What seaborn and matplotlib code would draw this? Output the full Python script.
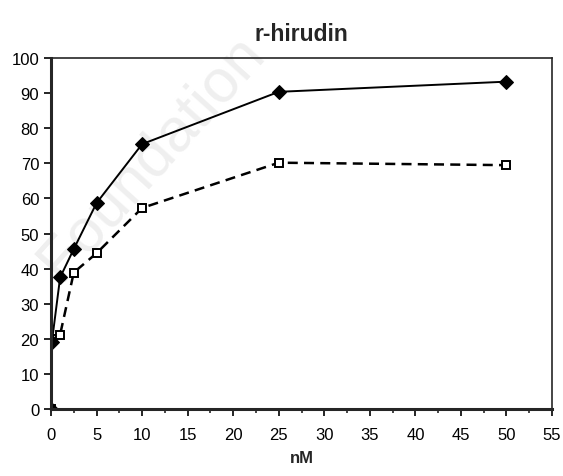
import pandas as pd
import matplotlib.pyplot as plt
import seaborn as sns

sns.set_style("ticks")
plt.rcParams["font.family"] = ["Liberation Sans", "DejaVu Sans"]

# data
conc_nm = [0, 0.1, 1, 2.5, 5, 10, 25, 50]
solid_vals = [0, 19.2, 37.5, 45.6, 58.7, 75.5, 90.4, 93.3]
dashed_vals = [0, 20.0, 21.2, 38.9, 44.4, 57.3, 70.2, 69.5]

df_solid = pd.DataFrame({"nM": conc_nm, "val": solid_vals})
df_dash = pd.DataFrame({"nM": conc_nm, "val": dashed_vals})

fig = plt.figure(figsize=(5.63, 4.77), dpi=100)
ax = fig.add_axes([0.0906, 0.1405, 0.8899, 0.7355])

# faint watermark behind everything
fig.text(0.27, 0.67, "Foundation", fontsize=44, color="#efefef",
         rotation=48, ha="center", va="center", zorder=-5)
ax.set_facecolor("none")

sns.lineplot(data=df_dash, x="nM", y="val", ax=ax, color="black",
             linewidth=1.8, linestyle=(0, (4, 2.5)), marker="s", markersize=6,
             markerfacecolor="white", markeredgecolor="black", markeredgewidth=1.4)
sns.lineplot(data=df_solid, x="nM", y="val", ax=ax, color="black",
             linewidth=1.4, marker="D", markersize=7,
             markerfacecolor="black", markeredgecolor="black")

ax.set_xlim(0, 55)
ax.set_ylim(0, 100)
ax.set_xticks(range(0, 56, 5))
ax.set_xticks([x + 2.5 for x in range(0, 55, 5)], minor=True)
ax.set_yticks(range(0, 101, 10))
ax.tick_params(axis="both", which="major", direction="out", length=5, width=1.2,
               labelsize=12, colors="black")
ax.tick_params(axis="x", which="minor", direction="out", length=3, width=1.2)
ax.tick_params(axis="x", pad=8)

for side in ["left", "bottom"]:
    ax.spines[side].set_linewidth(2.2)
for side in ["top", "right"]:
    ax.spines[side].set_visible(True)
    ax.spines[side].set_linewidth(1.2)

ax.set_ylabel("")
ax.set_xlabel("nM", fontsize=12, fontweight="bold", labelpad=6)
ax.set_title("r-hirudin", fontsize=16.5, fontweight="bold", pad=13)

fig.savefig("out.png", dpi=100)
